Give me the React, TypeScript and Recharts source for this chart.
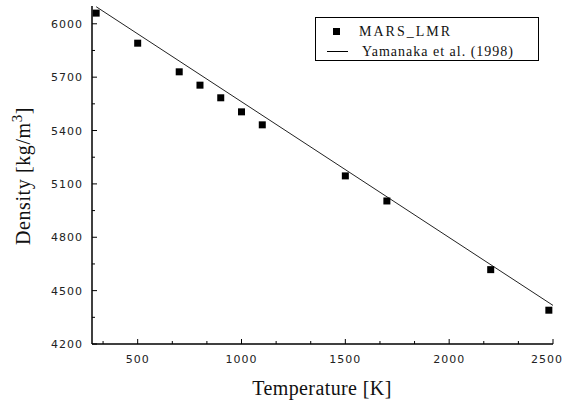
import { ComposedChart, Scatter, Line, XAxis, YAxis, Legend } from 'recharts'

// MARS_LMR calculation points
const marsTemp = [300, 500, 700, 800, 900, 1000, 1100, 1500, 1700, 2200, 2480]
const marsDensity = [6060, 5891, 5730, 5655, 5584, 5505, 5432, 5145, 5004, 4618, 4390]

// Yamanaka et al. (1998) correlation
const yamTemp = [300, 2500]
const yamDensity = [6096, 4417]

const xMajor = [500, 1000, 1500, 2000, 2500]
const xMinor = [333.3, 666.7, 833.3, 1166.7, 1333.3, 1666.7, 1833.3, 2166.7, 2333.3]
const yMajor = [4200, 4500, 4800, 5100, 5400, 5700, 6000]
const yMinor = [4350, 4650, 4950, 5250, 5550, 5850]

const marsData = marsTemp.map((t, i) => ({ t, d: marsDensity[i] }))
const yamData = yamTemp.map((t, i) => ({ t, d: yamDensity[i] }))

const tickFont = { fontFamily: 'DejaVu Sans', fontSize: 11, letterSpacing: 1, fill: '#222' }
const serif = "'Liberation Serif', 'Times New Roman', serif"

const BottomTick = (props: any) => {
  const { x, y, payload } = props
  const major = xMajor.includes(payload.value)
  // last label sits on the right edge, keep it inside the picture
  const last = payload.value === xMajor[xMajor.length - 1]
  return (
    <g>
      <line x1={x} x2={x} y1={y} y2={y - (major ? 5 : 3)} stroke="#000" strokeWidth={1} />
      {major && (
        <text x={last ? 563 : x} y={y + 19} textAnchor={last ? 'end' : 'middle'} {...tickFont}>
          {payload.value}
        </text>
      )}
    </g>
  )
}

const TopTick = (props: any) => {
  const { x, y, payload } = props
  const major = xMajor.includes(payload.value)
  return <line x1={x} x2={x} y1={y} y2={y + (major ? 5 : 3)} stroke="#000" strokeWidth={1} />
}

const LeftTick = (props: any) => {
  const { x, y, payload } = props
  const major = yMajor.includes(payload.value)
  return (
    <g>
      <line x1={x} x2={x + (major ? 5 : 3)} y1={y} y2={y} stroke="#000" strokeWidth={1} />
      {major && (
        <text x={x - 9} y={y + 4} textAnchor="end" {...tickFont}>
          {payload.value}
        </text>
      )}
    </g>
  )
}

const Square = (props: any) => {
  const { cx, cy } = props
  return <rect x={cx - 3.5} y={cy - 3.5} width={7} height={7} fill="#000" />
}

const LegendBox = () => (
  <div
    style={{
      position: 'relative',
      width: 224,
      height: 44,
      boxSizing: 'border-box',
      border: '1px solid #000',
      background: '#fff',
      fontFamily: serif,
      fontSize: 14,
      color: '#111',
    }}
  >
    <div style={{ position: 'absolute', left: 17, top: 10, width: 7, height: 7, background: '#000' }} />
    <div style={{ position: 'absolute', left: 43, top: 4, letterSpacing: 2, lineHeight: '20px' }}>MARS_LMR</div>
    <div style={{ position: 'absolute', left: 11, top: 33, width: 21, height: 1, background: '#000' }} />
    <div style={{ position: 'absolute', left: 46, top: 24, letterSpacing: 1, lineHeight: '20px' }}>
      Yamanaka et al. (1998)
    </div>
  </div>
)

export default function App() {
  return (
    <div style={{ position: 'absolute', left: 0, top: 0, background: '#fff' }}>
      <ComposedChart width={564} height={401} margin={{ top: 6, right: 11, bottom: 0, left: 0 }}>
        <XAxis
          dataKey="t"
          type="number"
          domain={[280, 2500]}
          ticks={[...xMajor, ...xMinor]}
          interval={0}
          height={57}
          tickSize={0}
          tickMargin={0}
          tickLine={false}
          tick={<BottomTick />}
          axisLine={{ stroke: '#000', strokeWidth: 1.5 }}
          label={() => (
            <text x={322} y={395} textAnchor="middle" fontFamily={serif} fontSize={20} fill="#111" letterSpacing={0.4}>
              Temperature [K]
            </text>
          )}
        />
        <XAxis
          xAxisId="top"
          orientation="top"
          type="number"
          domain={[280, 2500]}
          ticks={[...xMajor, ...xMinor]}
          interval={0}
          height={0}
          tickSize={0}
          tickMargin={0}
          tickLine={false}
          tick={<TopTick />}
          axisLine={{ stroke: '#000', strokeWidth: 1.5 }}
        />
        <YAxis
          dataKey="d"
          type="number"
          domain={[4200, 6100]}
          ticks={[...yMajor, ...yMinor]}
          interval={0}
          width={92}
          tickSize={0}
          tickMargin={0}
          tickLine={false}
          tick={<LeftTick />}
          axisLine={{ stroke: '#000', strokeWidth: 1.5 }}
          label={() => (
            <text
              x={30}
              y={176}
              transform="rotate(-90, 30, 176)"
              textAnchor="middle"
              fontFamily={serif}
              fontSize={20}
              fill="#111"
              letterSpacing={0.6}
            >
              Density [kg/m
              <tspan fontSize={15} dy={-8}>3</tspan>
              <tspan dy={8}>]</tspan>
            </text>
          )}
        />
        <YAxis
          yAxisId="right"
          orientation="right"
          type="number"
          domain={[4200, 6100]}
          width={0}
          tick={false}
          tickLine={false}
          axisLine={{ stroke: '#000', strokeWidth: 1.5 }}
        />
        <Legend
          layout="horizontal"
          verticalAlign="middle"
          align="center"
          content={<LegendBox />}
          wrapperStyle={{ left: 315, top: 17, width: 224, height: 44 }}
        />
        <Line
          data={yamData}
          dataKey="d"
          type="linear"
          stroke="#222"
          strokeWidth={1}
          dot={false}
          activeDot={false}
          isAnimationActive={false}
        />
        <Scatter data={marsData} dataKey="d" shape={<Square />} isAnimationActive={false} />
      </ComposedChart>
    </div>
  )
}
